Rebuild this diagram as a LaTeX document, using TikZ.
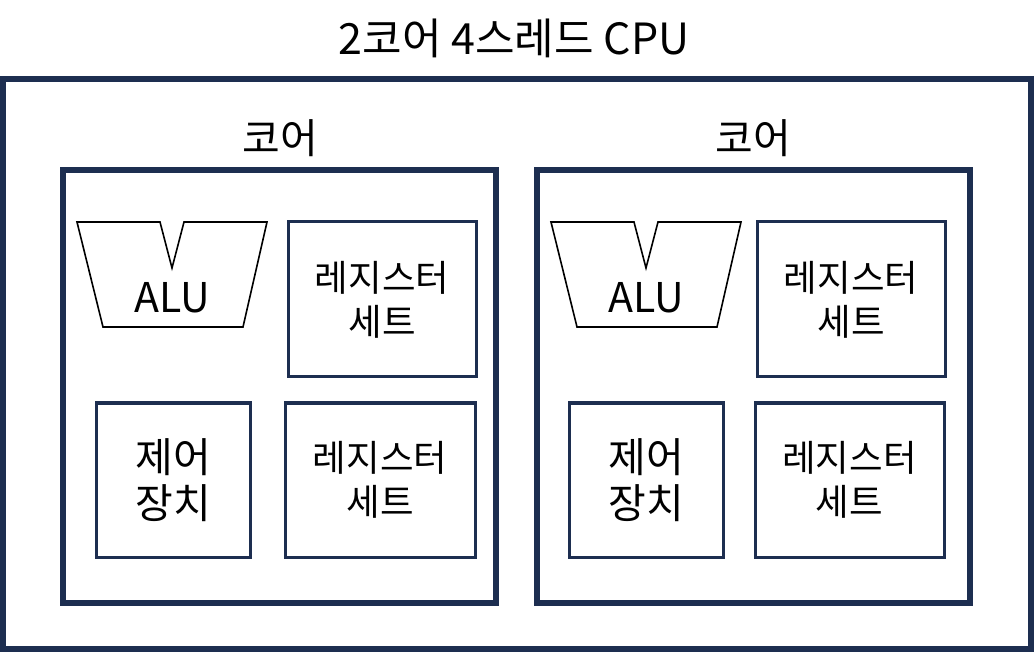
\documentclass[tikz,border=0pt]{standalone}
\usepackage{fontspec}
\setmainfont{Noto Sans CJK KR}
\definecolor{navy}{HTML}{1D2E50}
\begin{document}
\begin{tikzpicture}[x=1pt,y=-1pt,
  thick box/.style={draw=navy,line width=6pt,inner sep=0pt,rectangle},
  unit box/.style={draw=navy,line width=3pt,inner sep=0pt,rectangle,align=center,
     font=\fontsize{36.5}{44}\selectfont},
  ctrl box/.style={unit box,font=\fontsize{41}{46}\selectfont},
  alu shape/.style={draw=black,line width=1.6pt,line join=miter},
  title/.style={font=\fontsize{41}{48}\selectfont,inner sep=0pt},
  alu text/.style={font=\fontsize{41}{48}\selectfont,inner sep=0pt}]
\useasboundingbox (0,0) rectangle (1034,652);
\node[thick box,minimum width=1028pt,minimum height=570pt] (cpu) at (517,364) {};
\node[title,font=\fontsize{43}{48}\selectfont] (cputitle) at (514,38) {2코어 4스레드 CPU};
\node[thick box,minimum width=433pt,minimum height=433pt] (coreL) at (279.5,386.5) {};
\node[thick box,minimum width=433pt,minimum height=433pt] (coreR) at (753.5,386.5) {};
\node[title] (coreLt) at (280,138) {코어};
\node[title] (coreRt) at (753,138) {코어};
% left core
\node[unit box,minimum width=188pt,minimum height=155pt] (regL1) at (382,299.5) {레지스터\\세트};
\node[unit box,minimum width=190pt,minimum height=154pt] (regL2) at (380,480) {레지스터\\세트};
\node[ctrl box,minimum width=154pt,minimum height=154pt] (ctrlL) at (173,480) {제어\\장치};
\draw[alu shape] (77,222) -- (160,222) -- (172,268) -- (184,222) -- (267,222) -- (243,327) -- (103,327) -- cycle;
\node[alu text] (aluL) at (172,298) {ALU};
% right core
\node[unit box,minimum width=188pt,minimum height=155pt] (regR1) at (851,299.5) {레지스터\\세트};
\node[unit box,minimum width=189pt,minimum height=154pt] (regR2) at (849.5,480) {레지스터\\세트};
\node[ctrl box,minimum width=154pt,minimum height=154pt] (ctrlR) at (646,480) {제어\\장치};
\draw[alu shape] (551,222) -- (634,222) -- (646,268) -- (658,222) -- (741,222) -- (717,327) -- (577,327) -- cycle;
\node[alu text] (aluR) at (646,298) {ALU};
\end{tikzpicture}
\end{document}
